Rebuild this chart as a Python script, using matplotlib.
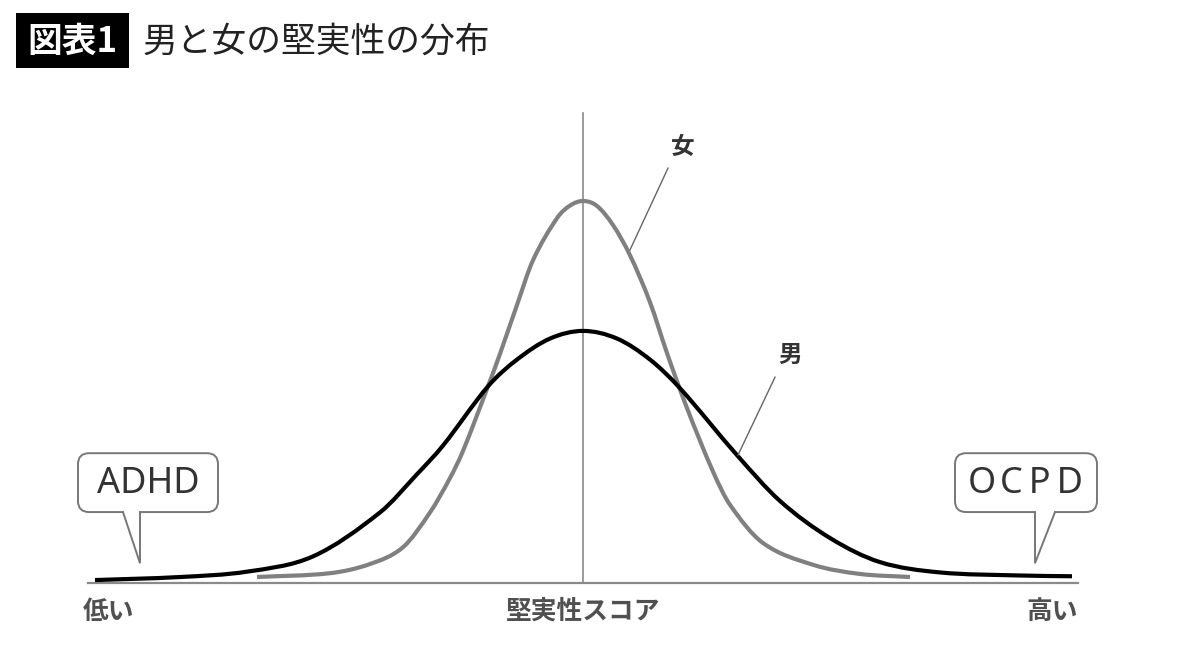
import numpy as np
import matplotlib
matplotlib.use("Agg")
import matplotlib.pyplot as plt
from matplotlib.path import Path
from matplotlib.patches import PathPatch, FancyBboxPatch, Polygon

plt.rcParams['font.family'] = ['Noto Sans CJK JP', 'DejaVu Sans']

# curves (score offset from centre, relative height)
female_x = [-3.26, -2.53, -2.13, -1.80, -1.53, -1.33, -1.20, -0.95, -0.83, -0.66,
            -0.50, -0.26, -0.13, 0.0, 0.14, 0.30, 0.47, 0.67, 0.84, 1.04,
            1.30, 1.47, 1.80, 2.30, 2.77, 3.27]
female_y = [0.016, 0.026, 0.050, 0.094, 0.185, 0.275, 0.346, 0.515, 0.600, 0.728,
            0.845, 0.955, 0.988, 1.0, 0.987, 0.937, 0.858, 0.735, 0.602, 0.458,
            0.292, 0.205, 0.105, 0.048, 0.024, 0.016]

male_x = [-4.88, -4.03, -3.36, -2.70, -2.03, -1.66, -1.40, -0.95, -0.66, -0.33,
          0.0, 0.34, 0.67, 0.97, 1.54, 1.97, 2.47, 2.97, 3.57, 4.37, 4.89]
male_y = [0.008, 0.016, 0.030, 0.070, 0.185, 0.285, 0.360, 0.515, 0.585, 0.640,
          0.660, 0.640, 0.585, 0.510, 0.335, 0.215, 0.118, 0.055, 0.028, 0.020, 0.018]

title_tag = "図表1"
title_text = "男と女の堅実性の分布"
axis_labels = ["低い", "堅実性スコア", "高い"]
bubbles = ["ADHD", "O\u200aC\u2009P\u2009D"]


def smooth_path(xs, ys):
    # cubic hermite through the read points, drawn as beziers
    x = np.asarray(xs, float)
    y = np.asarray(ys, float)
    n = len(x)
    m = np.zeros(n)
    m[1:-1] = (y[2:] - y[:-2]) / (x[2:] - x[:-2])
    m[0] = (y[1] - y[0]) / (x[1] - x[0])
    m[-1] = (y[-1] - y[-2]) / (x[-1] - x[-2])
    verts = [(x[0], y[0])]
    codes = [Path.MOVETO]
    for i in range(n - 1):
        h = x[i + 1] - x[i]
        verts += [(x[i] + h / 3, y[i] + m[i] * h / 3),
                  (x[i + 1] - h / 3, y[i + 1] - m[i + 1] * h / 3),
                  (x[i + 1], y[i + 1])]
        codes += [Path.CURVE4] * 3
    return Path(verts, codes)


fig = plt.figure(figsize=(12, 6.5), dpi=100)
ax = fig.add_axes([0, 0, 1, 1])
ax.set_xlim(-5.83, 6.17)
ax.set_ylim(-0.175, 1.526)
ax.axis('off')

gray = '#8a8a8a'

# axis and centre line
ax.plot([-4.95, 4.95], [0, 0], color=gray, lw=1.6, zorder=1)
ax.plot([0, 0], [0, 1.23], color=gray, lw=1.2, zorder=1)

ax.add_patch(PathPatch(smooth_path(female_x, female_y), fill=False,
                       edgecolor='#808080', lw=3.0, capstyle='butt', zorder=2))
ax.add_patch(PathPatch(smooth_path(male_x, male_y), fill=False,
                       edgecolor='#000000', lw=3.0, capstyle='butt', zorder=3))

# leader lines and labels
ax.plot([0.85, 0.47], [1.086, 0.872], color='#666666', lw=1.0, zorder=4)
ax.text(1.0, 1.141, "女", fontsize=17, fontweight='bold', color='#333333',
        ha='center', va='center')
ax.plot([1.92, 1.55], [0.539, 0.335], color='#666666', lw=1.0, zorder=4)
ax.text(2.07, 0.597, "男", fontsize=17, fontweight='bold', color='#333333',
        ha='center', va='center')


def bubble(x0, x1, text, tail):
    y0, y1 = 0.186, 0.340
    box = FancyBboxPatch((x0, y0), x1 - x0, y1 - y0,
                         boxstyle="round,pad=0,rounding_size=0.11",
                         mutation_aspect=100 / 382,
                         facecolor='white', edgecolor='#777777', lw=1.4, zorder=5)
    ax.add_patch(box)
    (bx0, bx1, tx) = tail
    ax.add_patch(Polygon([(bx0, y0 + 0.006), (tx, 0.052), (bx1, y0 + 0.006)],
                         closed=True, facecolor='white', edgecolor='none', zorder=6))
    ax.plot([bx0, tx, bx1], [y0, 0.052, y0], color='#777777', lw=1.4, zorder=7,
            solid_joinstyle='miter')
    ax.text((x0 + x1) / 2, (y0 + y1) / 2 - 0.004, text, fontsize=26,
            family=['Noto Sans', 'DejaVu Sans'], color='#333333',
            ha='center', va='center', zorder=8)


bubble(-5.05, -3.65, bubbles[0], (-4.60, -4.43, -4.43))
bubble(3.72, 5.14, bubbles[1], (4.52, 4.72, 4.52))

# bottom labels
lab = dict(fontsize=18.5, color='#505050', fontweight='bold', va='center')
ax.text(-5.0, -0.074, axis_labels[0], ha='left', **lab)
ax.text(0, -0.074, axis_labels[1], ha='center', **lab)
ax.text(4.95, -0.074, axis_labels[2], ha='right', **lab)

# title
fig.patches.append(plt.Rectangle((16 / 1200, 1 - 68 / 650), 113 / 1200, 55 / 650,
                                 transform=fig.transFigure, facecolor='black',
                                 edgecolor='none'))
fig.text(72 / 1200, 1 - 41 / 650, title_tag, fontsize=25, fontweight='bold',
         color='white', ha='center', va='center')
fig.text(143 / 1200, 1 - 42 / 650, title_text, fontsize=25, color='#222222',
         ha='left', va='center')

fig.savefig("out.png", dpi=100, facecolor='white')
